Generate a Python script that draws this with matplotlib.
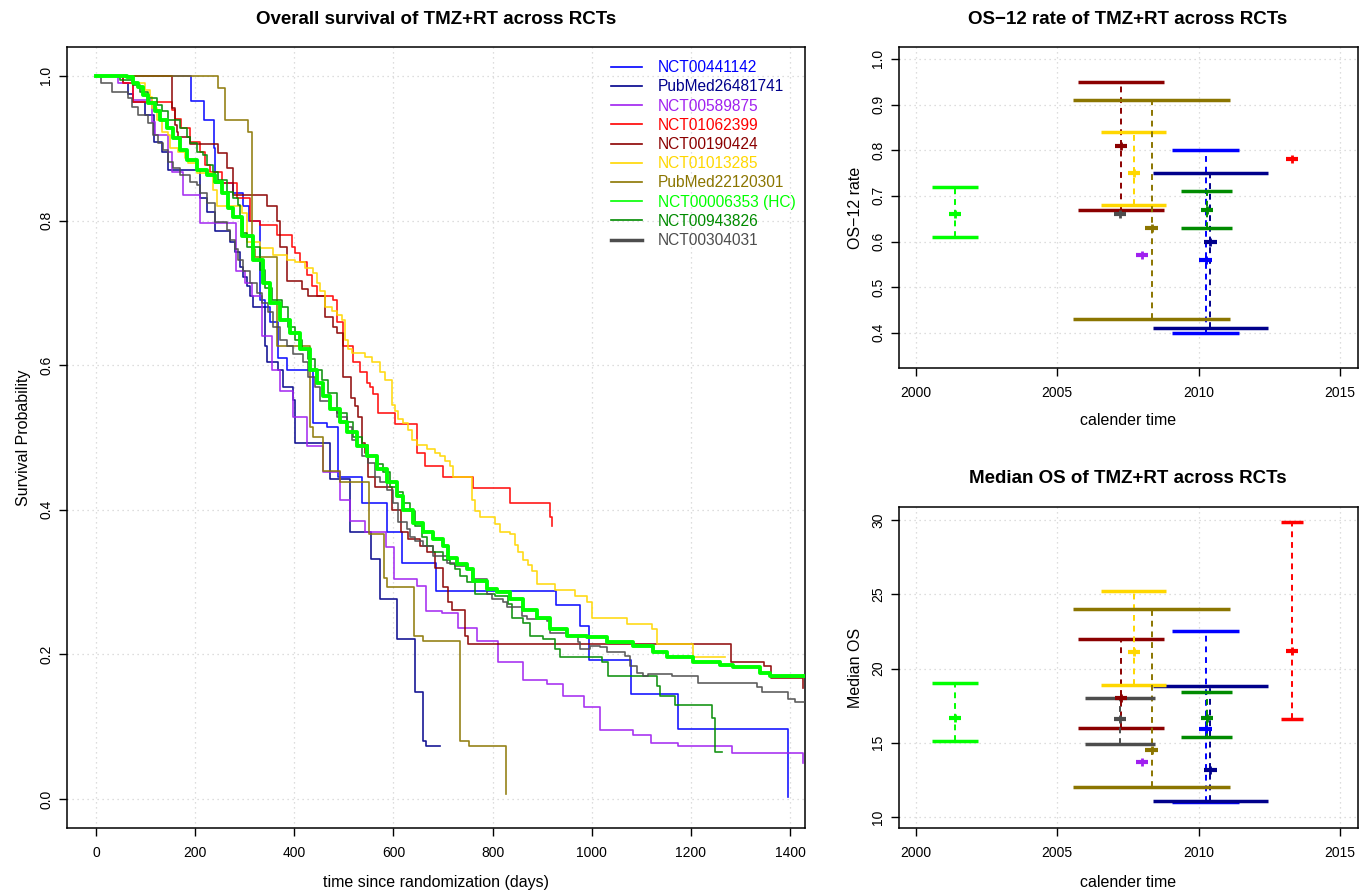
import numpy as np
import matplotlib
matplotlib.use('Agg')
import matplotlib.pyplot as plt
from matplotlib.lines import Line2D

plt.rcParams['font.family'] = ['Liberation Sans', 'DejaVu Sans']

# ---- trial names / colours (legend order)
trials = ['NCT00441142', 'PubMed26481741', 'NCT00589875', 'NCT01062399', 'NCT00190424',
          'NCT01013285', 'PubMed22120301', 'NCT00006353 (HC)', 'NCT00943826', 'NCT00304031']
colors = ['#0000FF', '#00008B', '#A020F0', '#FF0000', '#8B0000',
          '#FFD700', '#8B7500', '#00FF00', '#008B00', '#4D4D4D']

# ---- KM curves (days, survival)
t_blue = [0, 191, 218, 237, 240, 276, 297, 309, 331, 341, 351, 367, 385, 438, 466, 488, 537, 587, 617, 686, 928, 976, 995, 1079, 1174, 1396]
s_blue = [1.0, 0.965, 0.939, 0.90, 0.852, 0.838, 0.82, 0.80, 0.69, 0.68, 0.66, 0.61, 0.594, 0.52, 0.515, 0.446, 0.41, 0.37, 0.327, 0.288, 0.268, 0.24, 0.192, 0.145, 0.097, 0.003]

t_navy = [0, 54, 65, 75, 99, 116, 133, 145, 210, 223, 240, 270, 280, 290, 297, 304, 311, 317, 341, 344, 367, 377, 398, 401, 472, 512, 555, 573, 607, 643, 660, 666, 694]
s_navy = [1.0, 0.99, 0.975, 0.964, 0.946, 0.909, 0.895, 0.87, 0.831, 0.812, 0.786, 0.77, 0.757, 0.736, 0.722, 0.709, 0.695, 0.681, 0.626, 0.605, 0.594, 0.57, 0.552, 0.493, 0.442, 0.37, 0.332, 0.276, 0.221, 0.148, 0.08, 0.073, 0.073]

t_purple = [0, 44, 75, 113, 119, 145, 153, 176, 210, 282, 301, 315, 335, 355, 371, 397, 426, 458, 492, 512, 543, 585, 601, 647, 666, 698, 730, 769, 811, 861, 910, 942, 984, 1017, 1083, 1120, 1174, 1283, 1426]
s_purple = [1.0, 0.99, 0.967, 0.936, 0.918, 0.895, 0.867, 0.836, 0.797, 0.73, 0.714, 0.695, 0.64, 0.594, 0.564, 0.528, 0.488, 0.452, 0.414, 0.384, 0.37, 0.348, 0.304, 0.294, 0.26, 0.257, 0.237, 0.218, 0.189, 0.164, 0.159, 0.142, 0.127, 0.095, 0.089, 0.077, 0.073, 0.064, 0.05]

t_red = [0, 55, 75, 153, 159, 171, 190, 210, 220, 230, 254, 284, 311, 331, 365, 395, 401, 411, 425, 436, 446, 478, 486, 498, 518, 533, 547, 553, 559, 569, 603, 648, 664, 700, 760, 835, 916, 920]
s_red = [1.0, 0.99, 0.964, 0.953, 0.94, 0.928, 0.909, 0.895, 0.877, 0.867, 0.852, 0.831, 0.80, 0.794, 0.78, 0.764, 0.755, 0.743, 0.725, 0.709, 0.695, 0.69, 0.66, 0.626, 0.604, 0.59, 0.576, 0.57, 0.56, 0.534, 0.518, 0.479, 0.46, 0.446, 0.43, 0.41, 0.39, 0.378]

t_dred = [0, 153, 159, 163, 166, 190, 246, 264, 276, 345, 365, 371, 385, 415, 428, 462, 478, 486, 498, 514, 522, 529, 537, 543, 549, 563, 598, 615, 629, 654, 667, 684, 700, 710, 718, 744, 751, 1281, 1348, 1361, 1426]
s_dred = [1.0, 0.956, 0.932, 0.923, 0.916, 0.906, 0.894, 0.873, 0.836, 0.82, 0.80, 0.764, 0.716, 0.705, 0.695, 0.667, 0.653, 0.645, 0.583, 0.555, 0.543, 0.529, 0.493, 0.479, 0.445, 0.431, 0.40, 0.369, 0.359, 0.35, 0.341, 0.32, 0.293, 0.273, 0.262, 0.225, 0.214, 0.19, 0.184, 0.167, 0.153]

t_gold = [0, 75, 99, 109, 113, 123, 133, 145, 149, 166, 180, 186, 204, 236, 244, 294, 305, 331, 357, 385,
          401, 422, 438, 446, 452, 462, 476, 486, 496, 502, 508, 516, 543, 557, 573, 583, 597, 603, 609, 619,
          629, 637, 647, 668, 684, 694, 704, 714, 720, 758, 765, 775, 805, 815, 835, 845, 851, 861, 871, 879,
          889, 926, 966, 990, 1000, 1071, 1121, 1131, 1204, 1269]
s_gold = [1.0, 0.99, 0.98, 0.971, 0.956, 0.939, 0.923, 0.918, 0.90, 0.895, 0.887, 0.88, 0.866, 0.842, 0.82, 0.81, 0.77, 0.762, 0.753, 0.746,
          0.742, 0.735, 0.728, 0.714, 0.702, 0.681, 0.675, 0.67, 0.663, 0.635, 0.622, 0.617, 0.612, 0.604, 0.591, 0.58, 0.545, 0.536, 0.525, 0.52,
          0.511, 0.497, 0.49, 0.484, 0.479, 0.474, 0.467, 0.46, 0.446, 0.414, 0.398, 0.39, 0.38, 0.37, 0.366, 0.352, 0.341, 0.331, 0.323, 0.315,
          0.298, 0.289, 0.281, 0.272, 0.251, 0.242, 0.235, 0.214, 0.196, 0.196]

t_olive = [0, 246, 260, 307, 315, 320, 365, 432, 438, 458, 492, 551, 581, 587, 642, 660, 734, 752, 827]
s_olive = [1.0, 0.983, 0.939, 0.923, 0.76, 0.75, 0.626, 0.514, 0.501, 0.453, 0.438, 0.366, 0.306, 0.293, 0.225, 0.218, 0.08, 0.073, 0.007]

t_hc = [0, 62, 75, 85, 95, 105, 119, 129, 143, 155, 169, 184, 204, 224, 240, 254, 266, 276, 294, 317,
        337, 351, 371, 391, 411, 432, 446, 458, 472, 492, 506, 526, 547, 567, 587, 607, 619, 639, 660, 680,
        700, 710, 728, 748, 760, 789, 809, 835, 861, 890, 916, 950, 990, 1031, 1083, 1124, 1152, 1204, 1259, 1285,
        1339, 1360, 1426]
s_hc = [1.0, 0.998, 0.99, 0.985, 0.974, 0.963, 0.951, 0.939, 0.928, 0.914, 0.898, 0.884, 0.87, 0.863, 0.854, 0.838, 0.818, 0.805, 0.778, 0.746,
        0.714, 0.686, 0.663, 0.645, 0.622, 0.594, 0.576, 0.557, 0.539, 0.521, 0.507, 0.488, 0.474, 0.456, 0.438, 0.419, 0.40, 0.382, 0.369, 0.359,
        0.35, 0.334, 0.325, 0.318, 0.301, 0.29, 0.286, 0.276, 0.262, 0.251, 0.235, 0.225, 0.224, 0.217, 0.212, 0.203, 0.196, 0.189, 0.186, 0.182,
        0.175, 0.17, 0.17]

t_dgreen = [0, 48, 75, 89, 105, 123, 133, 145, 169, 184, 190, 204, 216, 224, 236, 246, 264, 276, 286, 290,
            297, 305, 331, 341, 355, 375, 387, 401, 415, 428, 442, 456, 468, 486, 506, 518, 537, 549, 567, 579,
            593, 607, 619, 633, 643, 658, 668, 680, 700, 714, 724, 734, 748, 765, 805, 831, 839, 861, 875, 902,
            926, 936, 1021, 1033, 1132, 1138, 1168, 1243, 1249, 1263]
s_dgreen = [1.0, 0.994, 0.988, 0.978, 0.97, 0.96, 0.951, 0.939, 0.928, 0.916, 0.907, 0.895, 0.891, 0.877, 0.867, 0.856, 0.84, 0.831, 0.822, 0.804,
            0.783, 0.764, 0.732, 0.707, 0.69, 0.681, 0.653, 0.635, 0.622, 0.608, 0.594, 0.58, 0.562, 0.534, 0.521, 0.501, 0.49, 0.474, 0.463, 0.452,
            0.432, 0.424, 0.41, 0.398, 0.377, 0.363, 0.35, 0.341, 0.331, 0.325, 0.318, 0.308, 0.30, 0.283, 0.281, 0.27, 0.251, 0.244, 0.225, 0.221,
            0.207, 0.196, 0.189, 0.17, 0.156, 0.142, 0.13, 0.112, 0.065, 0.065]

t_gray = [0, 10, 32, 65, 73, 85, 105, 115, 125, 135, 145, 155, 169, 190, 204, 210, 224, 240, 264, 270,
          280, 286, 297, 311, 325, 335, 347, 357, 371, 385, 397, 418, 428, 442, 452, 472, 486, 506, 516, 526,
          537, 549, 563, 573, 587, 599, 609, 627, 633, 643, 660, 680, 708, 724, 748, 758, 789, 799, 821, 829,
          859, 869, 910, 916, 950, 972, 976, 996, 1017, 1031, 1067, 1077, 1091, 1103, 1113, 1162, 1214, 1333, 1343, 1396,
          1410, 1430]
s_gray = [1.0, 0.99, 0.978, 0.97, 0.957, 0.946, 0.935, 0.918, 0.907, 0.898, 0.881, 0.873, 0.863, 0.854, 0.849, 0.838, 0.824, 0.798, 0.787, 0.773,
          0.76, 0.746, 0.73, 0.714, 0.70, 0.686, 0.673, 0.653, 0.635, 0.626, 0.615, 0.604, 0.584, 0.57, 0.55, 0.539, 0.529, 0.515, 0.497, 0.488,
          0.474, 0.465, 0.446, 0.438, 0.428, 0.41, 0.383, 0.373, 0.363, 0.357, 0.35, 0.336, 0.327, 0.322, 0.318, 0.304, 0.283, 0.276, 0.272, 0.265,
          0.253, 0.249, 0.246, 0.23, 0.225, 0.217, 0.207, 0.212, 0.21, 0.203, 0.198, 0.184, 0.175, 0.17, 0.173, 0.17, 0.161, 0.155, 0.148, 0.138,
          0.134, 0.134]

curves_t = [t_blue, t_navy, t_purple, t_red, t_dred, t_gold, t_olive, t_hc, t_dgreen, t_gray]
curves_s = [s_blue, s_navy, s_purple, s_red, s_dred, s_gold, s_olive, s_hc, s_dgreen, s_gray]

# ---- accrual period (calendar years) and summary estimates
acc_start = [2009.06, 2008.39, 2008.0, 2012.92, 2005.72, 2006.56, 2005.56, 2000.55, 2009.39, 2005.99]
acc_end   = [2011.44, 2012.45, 2008.0, 2013.69, 2008.77, 2008.86, 2011.11, 2002.20, 2011.19, 2008.45]
os12      = [0.56, 0.60, 0.57, 0.78, 0.81, 0.75, 0.63, 0.66, 0.67, 0.66]
os12_lo   = [0.40, 0.41, np.nan, np.nan, 0.67, 0.68, 0.43, 0.61, 0.63, np.nan]
os12_hi   = [0.80, 0.75, np.nan, np.nan, 0.95, 0.84, 0.91, 0.72, 0.71, np.nan]
mos       = [15.9, 13.2, 13.7, 21.2, 18.0, 21.1, 14.5, 16.7, 16.7, 16.6]
mos_lo    = [11.0, 11.1, np.nan, 16.6, 16.0, 18.9, 12.0, 15.1, 15.4, 14.9]
mos_hi    = [22.5, 18.8, np.nan, 29.9, 22.0, 25.2, 24.0, 19.0, 18.4, 18.0]

fig = plt.figure(figsize=(13.72, 8.96), dpi=100)
W, H = 1372.0, 896.0

ax = fig.add_axes([67 / W, 1 - 828 / H, 738 / W, 781 / H])
ax1 = fig.add_axes([899 / W, 1 - 368 / H, 459 / W, 321 / H])
ax2 = fig.add_axes([899 / W, 1 - 828 / H, 459 / W, 321 / H])

grid_kw = dict(color='#D3D3D3', linestyle=(0, (1, 3)), linewidth=0.9)

# ---- left: KM curves
for i in range(len(trials)):
    lw = 2.8 if i == 7 else 1.2
    z = 5 if i == 7 else 3
    ax.step(curves_t[i], curves_s[i], where='post', color=colors[i], lw=lw, zorder=z, alpha=0.9 if i != 7 else 1)

ax.set_xlim(-58.5, 1430)
ax.set_ylim(-0.04, 1.04)
ax.set_xticks(np.arange(0, 1401, 200))
ax.set_yticks(np.arange(0, 1.01, 0.2))
ax.set_yticklabels(['%.1f' % v for v in np.arange(0, 1.01, 0.2)], rotation=90, va='center')
for v in np.arange(0, 1401, 200):
    ax.axvline(v, zorder=0, **grid_kw)
for v in np.arange(0, 1.01, 0.2):
    ax.axhline(v, zorder=0, **grid_kw)

handles = []
for i in range(len(trials)):
    handles.append(Line2D([], [], color=colors[i], lw=2.5 if i == 9 else 1.2))
leg = ax.legend(handles, trials, loc='upper left', bbox_to_anchor=(0.737, 0.983), frameon=False,
                fontsize=11.2, handlelength=2.0, handletextpad=1.0, labelspacing=0.27,
                borderaxespad=0, borderpad=0)
for txt, c in zip(leg.get_texts(), colors):
    txt.set_color(c)

ax.set_xlabel('time since randomization (days)', fontsize=11.5, labelpad=11)
ax.set_ylabel('Survival Probability', fontsize=11.5, labelpad=6)
fig.text(436 / W, 1 - 19 / H, 'Overall survival of TMZ+RT across RCTs', ha='center', va='center',
         fontsize=13.5, fontweight='bold')


# ---- right panels
def ci_panel(a, est, lo, hi):
    for i in range(len(trials)):
        mid = (acc_start[i] + acc_end[i]) / 2
        c = colors[i]
        if not np.isnan(lo[i]):
            a.hlines([lo[i], hi[i]], acc_start[i], acc_end[i], color=c, lw=2.5, zorder=3)
            a.vlines(mid, lo[i], hi[i], color=c, lw=1.4, linestyles=(0, (3, 2.5)), zorder=3)
        a.hlines(est[i], mid - 0.22, mid + 0.22, color=c, lw=3, zorder=4)
        a.plot(mid, est[i], marker='|', ms=6, mew=2, color=c, zorder=4)
    a.set_xlim(1999.4, 2015.64)
    a.set_xticks([2000, 2005, 2010, 2015])
    for v in [2000, 2005, 2010, 2015]:
        a.axvline(v, zorder=0, **grid_kw)


ci_panel(ax1, os12, os12_lo, os12_hi)
ax1.set_ylim(0.323, 1.026)
yt1 = np.arange(0.4, 1.01, 0.1)
ax1.set_yticks(yt1)
ax1.set_yticklabels(['%.1f' % v for v in yt1], rotation=90, va='center')
for v in yt1:
    ax1.axhline(v, zorder=0, **grid_kw)
ax1.set_xlabel('calender time', fontsize=11.5, labelpad=9)
ax1.set_ylabel('OS\u221212 rate', fontsize=11.5, labelpad=6)
fig.text(1128 / W, 1 - 19 / H, 'OS\u221212 rate of TMZ+RT across RCTs', ha='center', va='center',
         fontsize=13.5, fontweight='bold')

ci_panel(ax2, mos, mos_lo, mos_hi)
ax2.set_ylim(9.26, 30.88)
yt2 = [10, 15, 20, 25, 30]
ax2.set_yticks(yt2)
ax2.set_yticklabels([str(v) for v in yt2], rotation=90, va='center')
for v in yt2:
    ax2.axhline(v, zorder=0, **grid_kw)
ax2.set_xlabel('calender time', fontsize=11.5, labelpad=11)
ax2.set_ylabel('Median OS', fontsize=11.5, labelpad=6)
fig.text(1128 / W, 1 - 478 / H, 'Median OS of TMZ+RT across RCTs', ha='center', va='center',
         fontsize=13.5, fontweight='bold')

for a in [ax, ax1, ax2]:
    a.tick_params(direction='out', length=6, width=1, labelsize=10)
    a.tick_params(axis='x', pad=7)
    a.tick_params(axis='y', pad=4)
    for sp in a.spines.values():
        sp.set_linewidth(1.1)

plt.savefig('out.png', dpi=100)
